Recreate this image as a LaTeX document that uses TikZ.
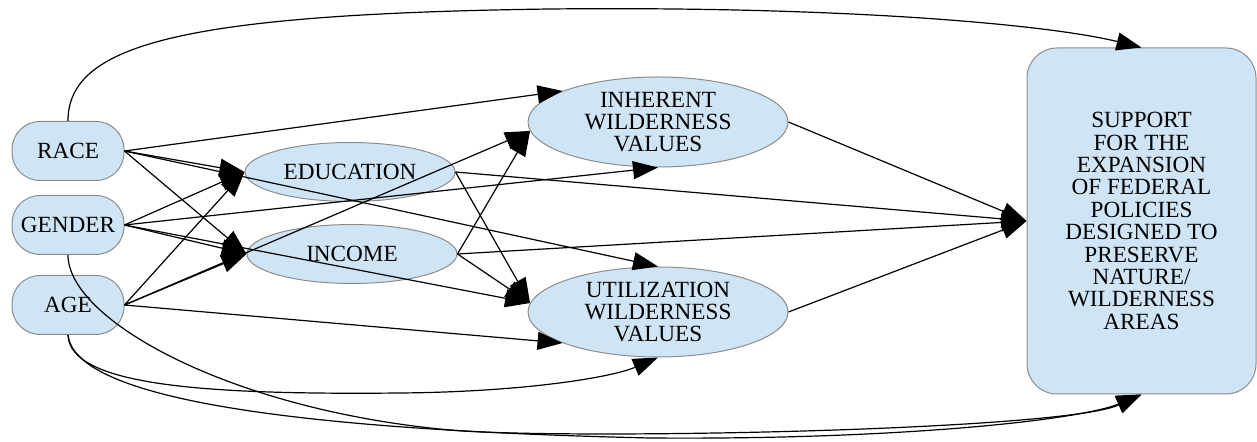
\documentclass[tikz,border=0pt]{standalone}
\usepackage{fontspec}
\setmainfont{Liberation Serif}
\usepackage{tikz}
\usepackage{xcolor}
\usetikzlibrary{arrows.meta}
\usetikzlibrary{positioning, shapes.geometric}
\definecolor{nodefill}{RGB}{207,229,245}
\definecolor{nodeline}{RGB}{140,140,140}

\begin{document}
\begin{tikzpicture}[x=0.5pt, y=-0.5pt,
    every node/.style={font=\fontsize{11.6}{11.2}\selectfont, align=center, inner sep=0pt},
    factor/.style={draw=nodeline, fill=nodefill, line width=0.5pt, rounded corners=14pt,
        minimum width=56pt, minimum height=29.5pt},
    mediator/.style={ellipse, draw=nodeline, fill=nodefill, line width=0.5pt,
        minimum width=105pt, minimum height=29.5pt},
    valuenode/.style={mediator, minimum width=130pt, minimum height=45pt},
    outcome/.style={factor, rounded corners=15pt, minimum width=114.5pt, minimum height=173pt},
    arr/.style={-{Triangle[length=12.5pt, width=9pt]}, line width=0.6pt, black}]
    \useasboundingbox (0,0) rectangle (1257,442);
    % 左侧：人口变量
    \node[factor] (race) at (68,151) {RACE};
    \node[factor] (gender) at (68,225) {GENDER};
    \node[factor] (age) at (68,305) {AGE};
    % 中间：教育与收入
    \node[mediator] (edu) at (350,172) {EDUCATION};
    \node[mediator] (income) at (352,254) {INCOME};
    % 价值观
    \node[valuenode] (inherent) at (658,122) {INHERENT\\WILDERNESS\\VALUES};
    \node[valuenode] (util) at (658,312) {UTILIZATION\\WILDERNESS\\VALUES};
    % 右侧结果
    \node[outcome] (support) at (1141.5,221) {SUPPORT\\FOR THE\\EXPANSION\\OF FEDERAL\\POLICIES\\DESIGNED TO\\PRESERVE\\NATURE/\\WILDERNESS\\AREAS};

    % RACE 的路径
    \draw[arr] (race.east) -- (inherent.162);
    \draw[arr] (race.east) -- (edu.west);
    \draw[arr] (race.east) -- (income.west);
    \draw[arr] (race.east) -- (util.north);
    \draw[arr] (race.north) .. controls (68,45) and (180,14) .. (550,9)
        .. controls (850,6) and (1050,25) .. (support.north);
    % GENDER 的路径
    \draw[arr] (gender.east) -- (edu.west);
    \draw[arr] (gender.east) -- (income.west);
    \draw[arr] (gender.east) -- (inherent.south);
    \draw[arr] (gender.east) -- (util.176);
    \draw[arr] (gender.south) .. controls (68,320) and (230,410) .. (450,430)
        .. controls (560,440) and (1062,431) .. (support.south);
    % AGE 的路径
    \draw[arr] (age.east) -- (edu.west);
    \draw[arr] (age.east) -- (income.west);
    \draw[arr] (age.east) -- (inherent.184);
    \draw[arr] (age.east) -- (util.198);
    \draw[arr] (age.south) .. controls (70,385) and (200,395) .. (400,393)
        .. controls (520,392) and (610,378) .. (util.south);
    \draw[arr] (age.south) .. controls (75,400) and (300,430) .. (650,438)
        .. controls (900,440) and (1080,420) .. (support.south);
    % 中间变量的路径
    \draw[arr] (edu.east) -- (util.176);
    \draw[arr] (edu.east) -- (support.west);
    \draw[arr] (income.east) -- (inherent.184);
    \draw[arr] (income.east) -- (util.176);
    \draw[arr] (income.east) -- (support.west);
    \draw[arr] (inherent.east) -- (support.west);
    \draw[arr] (util.east) -- (support.west);
\end{tikzpicture}
\end{document}
